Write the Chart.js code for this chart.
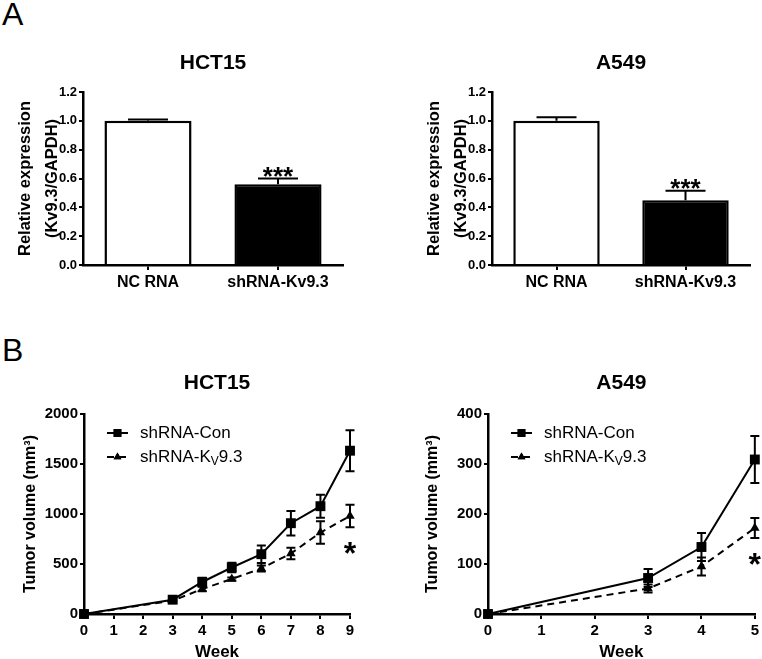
<!DOCTYPE html>
<html>
<head>
<meta charset="utf-8">
<script src="https://cdn.jsdelivr.net/npm/chart.js@4.4.1/dist/chart.umd.min.js"></script>
<style>
  body { margin: 0; width: 762px; height: 659px; overflow: hidden; background: #fff; position: relative;
         font-family: 'Liberation Sans', Arial, sans-serif; }
  canvas { position: absolute; }
  .tag { position: absolute; font-size: 32px; line-height: 32px; color: #000; }
</style>
</head>
<body>
<div class="tag" style="left:2px; top:-2px">A</div>
<div class="tag" style="left:2px; top:334px">B</div>
<canvas id="exprHct" width="380" height="270" style="left:0; top:40px"></canvas>
<canvas id="exprA549" width="382" height="270" style="left:380px; top:40px"></canvas>
<canvas id="tumorHct" width="380" height="295" style="left:0; top:370px"></canvas>
<canvas id="tumorA549" width="382" height="295" style="left:380px; top:370px"></canvas>
<script>
// panel A: relative expression
const barCategories = ['NC RNA', 'shRNA-Kv9.3'];
const hctExpr = [1.0, 0.56];
const hctExprErr = [0.01, 0.04];
const a549Expr = [1.0, 0.45];
const a549ExprErr = [0.025, 0.065];

// panel B: tumour volume by week
const hctWeeks = [0, 3, 4, 5, 6, 7, 8, 9];
const hctCon = [0, 143, 320, 465, 598, 908, 1078, 1633];
const hctConErr = [0, 15, 42, 48, 88, 123, 115, 205];
const hctKv = [0, 133, 250, 350, 455, 605, 815, 980];
const hctKvErr = [0, 10, 22, 15, 30, 58, 112, 112];

const a549Weeks = [0, 3, 4, 5];
const a549Con = [0, 72, 134, 309];
const a549ConErr = [0, 18, 28, 47];
const a549Kv = [0, 51, 95, 172];
const a549KvErr = [0, 8, 18, 20];

const FAMILY = "'Liberation Sans', Arial, sans-serif";
const bold = size => ({ family: FAMILY, size: size, weight: 'bold' });

// whiskers for every dataset that has an errors array
const errorBars = {
  id: 'errorBars',
  afterDatasetsDraw(chart) {
    const ctx = chart.ctx;
    const ys = chart.scales.y;
    chart.data.datasets.forEach((ds, i) => {
      if (!ds.errors) return;
      const meta = chart.getDatasetMeta(i);
      meta.data.forEach((el, j) => {
        const v = meta.controller.getParsed(j).y;
        const e = ds.errors[j];
        if (!e) return;
        const top = ys.getPixelForValue(v + e);
        const bot = ds.errorUpOnly ? ys.getPixelForValue(v) : ys.getPixelForValue(v - e);
        const w = ds.capWidth / 2;
        ctx.save();
        ctx.strokeStyle = '#000';
        ctx.lineWidth = 2;
        ctx.beginPath();
        ctx.moveTo(el.x, top); ctx.lineTo(el.x, bot);
        ctx.moveTo(el.x - w, top); ctx.lineTo(el.x + w, top);
        if (!ds.errorUpOnly) { ctx.moveTo(el.x - w, bot); ctx.lineTo(el.x + w, bot); }
        ctx.stroke();
        ctx.restore();
      });
    });
  }
};

// significance stars
const sigMarks = {
  id: 'sigMarks',
  afterDatasetsDraw(chart) {
    const ctx = chart.ctx;
    const ys = chart.scales.y;
    chart.data.datasets.forEach((ds, i) => {
      if (!ds.marks) return;
      const meta = chart.getDatasetMeta(i);
      ds.marks.forEach((m, j) => {
        if (!m) return;
        const v = meta.controller.getParsed(j).y;
        const el = meta.data[j];
        ctx.save();
        ctx.fillStyle = '#000';
        ctx.textAlign = 'center';
        ctx.textBaseline = 'alphabetic';
        if (ds.markBelow) {
          ctx.font = 'bold 32px ' + FAMILY;
          ctx.fillText(m, el.x, ys.getPixelForValue(v - ds.errors[j]) + 37);
        } else {
          ctx.font = 'bold 26px ' + FAMILY;
          ctx.fillText(m, el.x, ys.getPixelForValue(v + ds.errors[j]) + 6);
        }
        ctx.restore();
      });
    });
  }
};

// title centred over the plot area
const panelTitle = {
  id: 'panelTitle',
  afterDraw(chart, args, opts) {
    const ctx = chart.ctx;
    const a = chart.chartArea;
    ctx.save();
    ctx.fillStyle = '#000';
    ctx.font = 'bold 21px ' + FAMILY;
    ctx.textAlign = 'center';
    ctx.textBaseline = 'middle';
    ctx.fillText(opts.text, (a.left + a.right) / 2, opts.y);
    ctx.restore();
  }
};

// legend drawn inside the plot: line sample + marker + label
const lineLegend = {
  id: 'lineLegend',
  afterDraw(chart) {
    const ctx = chart.ctx;
    const a = chart.chartArea;
    const x0 = a.left + 23;
    chart.data.datasets.forEach((ds, i) => {
      const y = a.top + 19 + i * 24;
      ctx.save();
      ctx.strokeStyle = '#000';
      ctx.lineWidth = 2;
      ctx.setLineDash(ds.borderDash || []);
      ctx.beginPath();
      ctx.moveTo(x0, y); ctx.lineTo(x0 + 21, y);
      ctx.stroke();
      ctx.setLineDash([]);
      Chart.helpers.drawPoint(ctx, {
        pointStyle: ds.pointStyle, radius: ds.pointStyle === 'rect' ? 5.5 : 4.5,
        borderWidth: 0, rotation: 0
      }, x0 + 10.5, y);
      ctx.fillStyle = '#000';
      ctx.fill();
      ctx.textBaseline = 'middle';
      ctx.textAlign = 'left';
      let x = x0 + 33;
      ds.legendParts.forEach(p => {
        ctx.font = (p.sub ? 12 : 17) + 'px ' + FAMILY;
        ctx.fillText(p.t, x, p.sub ? y + 5 : y);
        x += ctx.measureText(p.t).width;
      });
      ctx.restore();
    });
  }
};

function exprChart(id, title, values, errors, yWidth, yTitlePad, right) {
  return new Chart(document.getElementById(id), {
    type: 'bar',
    data: {
      labels: barCategories,
      datasets: [{
        data: values,
        errors: errors,
        errorUpOnly: true,
        capWidth: 40,
        marks: ['', '***'],
        backgroundColor: ['#fff', '#000'],
        borderColor: '#000',
        borderWidth: 2.5,
        barPercentage: 0.67,
        categoryPercentage: 1
      }]
    },
    options: {
      responsive: false,
      animation: false,
      layout: { padding: { top: 52, right: right, left: 0, bottom: 0 } },
      plugins: {
        legend: { display: false },
        tooltip: { enabled: false },
        panelTitle: { text: title, y: 23 }
      },
      scales: {
        x: {
          grid: { offset: false, drawOnChartArea: false, color: '#000', lineWidth: 2, tickLength: 5 },
          border: { color: '#000', width: 2.5 },
          ticks: { color: '#000', font: bold(16), padding: 3, maxRotation: 0 },
          afterFit: s => { s.height = 45; }
        },
        y: {
          min: 0, max: 1.2,
          grid: { drawOnChartArea: false, color: '#000', lineWidth: 2, tickLength: 4 },
          border: { color: '#000', width: 2.5 },
          ticks: { stepSize: 0.2, color: '#000', font: bold(13), padding: 2, callback: v => v.toFixed(1) },
          title: {
            display: true,
            text: ['Relative expression', '(Kv9.3/GAPDH)'],
            color: '#000',
            font: { family: FAMILY, size: 16.5, weight: 'bold', lineHeight: 1.65 },
            padding: { top: yTitlePad, bottom: 0 }
          },
          afterFit: s => { s.width = yWidth; }
        }
      }
    },
    plugins: [errorBars, sigMarks, panelTitle]
  });
}

function tumorChart(id, title, weeks, con, conErr, kv, kvErr, xMax, yMax, yStep, yWidth, yTitlePad, right) {
  const pts = vals => weeks.map((w, i) => ({ x: w, y: vals[i] }));
  return new Chart(document.getElementById(id), {
    type: 'line',
    data: {
      datasets: [{
        data: pts(con),
        errors: conErr,
        capWidth: 9,
        borderColor: '#000',
        borderWidth: 2,
        tension: 0,
        pointStyle: 'rect',
        pointRadius: 7,
        pointBackgroundColor: '#000',
        pointBorderColor: '#000',
        pointBorderWidth: 0,
        clip: false,
        legendParts: [{ t: 'shRNA-Con' }]
      }, {
        data: pts(kv),
        errors: kvErr,
        capWidth: 9,
        marks: weeks.map((w, i) => i === weeks.length - 1 ? '*' : ''),
        markBelow: true,
        borderColor: '#000',
        borderWidth: 2,
        borderDash: [7, 5],
        tension: 0,
        pointStyle: 'triangle',
        pointRadius: 5.5,
        pointBackgroundColor: '#000',
        pointBorderColor: '#000',
        pointBorderWidth: 0,
        clip: false,
        legendParts: [{ t: 'shRNA-K' }, { t: 'V', sub: true }, { t: '9.3' }]
      }]
    },
    options: {
      responsive: false,
      animation: false,
      layout: { padding: { top: 44, right: right, left: 0, bottom: 0 } },
      plugins: {
        legend: { display: false },
        tooltip: { enabled: false },
        panelTitle: { text: title, y: 13 }
      },
      scales: {
        x: {
          type: 'linear', min: 0, max: xMax,
          grid: { drawOnChartArea: false, color: '#000', lineWidth: 2, tickLength: 5 },
          border: { color: '#000', width: 2.5 },
          ticks: { stepSize: 1, color: '#000', font: bold(15), padding: 3, maxRotation: 0 },
          title: { display: true, text: 'Week', color: '#000', font: bold(17), padding: { top: 0, bottom: 2 } },
          afterFit: s => { s.height = 51; }
        },
        y: {
          min: 0, max: yMax,
          grid: { drawOnChartArea: false, color: '#000', lineWidth: 2, tickLength: 4 },
          border: { color: '#000', width: 2.5 },
          ticks: { stepSize: yStep, color: '#000', font: bold(15), padding: 2, callback: v => String(v) },
          title: {
            display: true, text: 'Tumor volume (mm³)', color: '#000', font: bold(16),
            padding: { top: yTitlePad, bottom: 0 }
          },
          afterFit: s => { s.width = yWidth; }
        }
      }
    },
    plugins: [errorBars, sigMarks, panelTitle, lineLegend]
  });
}

exprChart('exprHct', 'HCT15', hctExpr, hctExprErr, 83, 12, 37);
exprChart('exprA549', 'A549', a549Expr, a549ExprErr, 112, 41, 12);
tumorChart('tumorHct', 'HCT15', hctWeeks, hctCon, hctConErr, hctKv, hctKvErr, 9, 2000, 500, 84, 21, 30);
tumorChart('tumorA549', 'A549', a549Weeks, a549Con, a549ConErr, a549Kv, a549KvErr, 5, 400, 100, 108, 43, 6);
</script>
</body>
</html>
